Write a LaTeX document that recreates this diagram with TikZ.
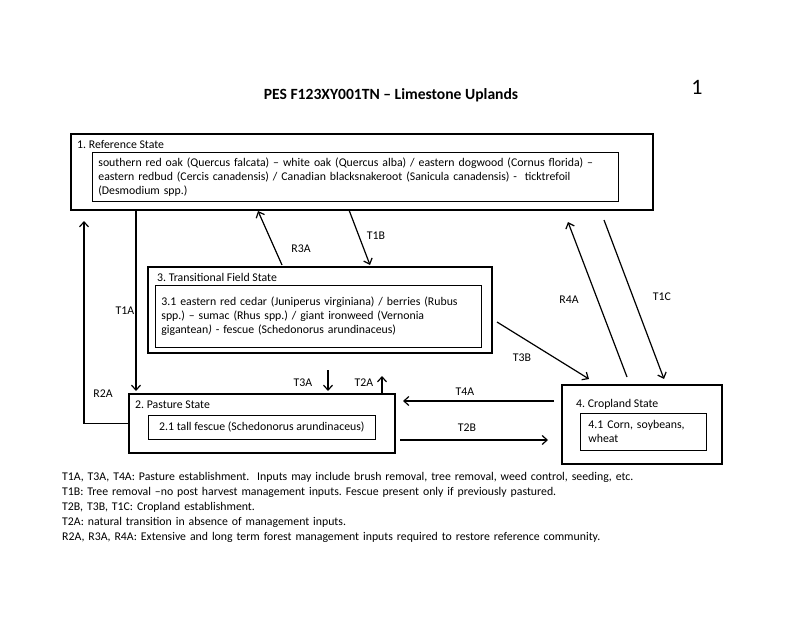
\documentclass[tikz,border=0pt]{standalone}
\usepackage{fontspec}
\setmainfont{Carlito}
\usetikzlibrary{positioning,arrows.meta}
\frenchspacing

\begin{document}
\begin{tikzpicture}[x=1pt,y=-1pt,
    outer/.style={draw, line width=1.6pt, anchor=north west, inner sep=0pt},
    inner/.style={draw, line width=0.8pt, anchor=north west, inner xsep=6pt, align=left},
    title/.style={anchor=base west, inner sep=0pt},
    lbl/.style={inner sep=1pt},
    arr/.style={line width=1.2pt, -{Straight Barb[length=5pt,width=9pt]}},
    every node/.style={font=\fontsize{11.8}{14}\selectfont}]
    \useasboundingbox (0,0) rectangle (800,618);
    % heading
    \node[font=\fontsize{15.6}{18}\selectfont\bfseries] (head) at (391,95) {PES F123XY001TN -- Limestone Uplands};
    \node[font=\fontsize{22}{26}\selectfont] (pageno) at (697,87) {1};
    % states
    \node[outer, minimum width=582pt, minimum height=76pt] (ref) at (70,133) {};
    \node[title] (reftitle) at (77,148) {1. Reference State};
    \node[inner, minimum width=526pt, minimum height=49pt, text width=514pt] (refcom) at (92,152)
        {southern red oak (Quercus falcata) -- white oak (Quercus alba) / eastern dogwood (Cornus florida) --\\
         eastern redbud (Cercis canadensis) / Canadian blacksnakeroot (Sanicula canadensis) -\ \ ticktrefoil\\
         (Desmodium spp.)};
    \node[outer, minimum width=344pt, minimum height=86pt] (trans) at (147,266) {};
    \node[title] (transtitle) at (157,281) {3. Transitional Field State};
    \node[inner, minimum width=326pt, minimum height=62pt, text width=314pt] (transcom) at (155,285)
        {3.1 eastern red cedar (Juniperus virginiana) / berries (Rubus\\
         spp.) -- sumac (Rhus spp.) / giant ironweed (Vernonia\\
         gigantean\textit{)} - fescue (Schedonorus arundinaceus)\\[-6pt]};
    \node[outer, minimum width=266pt, minimum height=59pt] (past) at (128,393) {};
    \node[title] (pasttitle) at (135,408) {2. Pasture State};
    \node[inner, minimum width=227pt, minimum height=24pt, align=center] (pastcom) at (148,415)
        {2.1 tall fescue (Schedonorus arundinaceus)};
    \node[outer, minimum width=160pt, minimum height=79pt] (crop) at (561,384) {};
    \node[title] (croptitle) at (576,407) {4. Cropland State};
    \node[inner, minimum width=122pt, minimum height=37pt, text width=110pt, inner xsep=8pt] (cropcom) at (580,413)
        {4.1 Corn, soybeans,\\ wheat};
    % arrow ends
    \coordinate (t1a) at (136,391);
    \coordinate (r2a) at (84,221);
    \coordinate (r3a-s) at (282,265);
    \coordinate (r3a-e) at (258,211);
    \coordinate (t1b-s) at (349,210);
    \coordinate (t1b-e) at (370,265);
    \coordinate (t3a-s) at (328,370);
    \coordinate (t3a-e) at (328,391);
    \coordinate (t2a) at (382,376);
    \coordinate (t3b-s) at (497,322);
    \coordinate (t3b-e) at (589,379);
    \coordinate (t4a-s) at (554,401);
    \coordinate (t4a-e) at (403,401);
    \coordinate (t2b-s) at (400,440);
    \coordinate (t2b-e) at (548,440);
    \coordinate (r4a-s) at (627,377);
    \coordinate (r4a-e) at (568,222);
    \coordinate (t1c-s) at (604,220);
    \coordinate (t1c-e) at (664,379);
    % transitions
    \draw[arr] (ref.south -| t1a) -- (t1a);
    \draw[arr] (past.west) -| (r2a);
    \draw[arr] (r3a-s) -- (r3a-e);
    \draw[arr] (t1b-s) -- (t1b-e);
    \draw[arr] (t3a-s) -- (t3a-e);
    \draw[arr] (past.north -| t2a) -- (t2a);
    \draw[arr] (t3b-s) -- (t3b-e);
    \draw[arr] (t4a-s) -- (t4a-e);
    \draw[arr] (t2b-s) -- (t2b-e);
    \draw[arr] (r4a-s) -- (r4a-e);
    \draw[arr] (t1c-s) -- (t1c-e);
    \node[lbl] (t1alab) at (125,311) {T1A};
    \node[lbl] (r2alab) at (103,394) {R2A};
    \node[lbl] (r3alab) at (301,249) {R3A};
    \node[lbl] (t1blab) at (376,236) {T1B};
    \node[lbl] (t3alab) at (303,383) {T3A};
    \node[lbl] (t2alab) at (364,383) {T2A};
    \node[lbl] (t3blab) at (522,358) {T3B};
    \node[lbl] (t4alab) at (465,392) {T4A};
    \node[lbl] (t2blab) at (467,428) {T2B};
    \node[lbl] (r4alab) at (569,300) {R4A};
    \node[lbl] (t1clab) at (662,297) {T1C};
    % notes
    \node[anchor=base west, inner sep=0pt, text width=700pt, align=left,
          font=\fontsize{11.8}{15}\selectfont] (notes) at (62,480)
        {T1A, T3A, T4A: Pasture establishment.\ \ Inputs may include brush removal, tree removal, weed control, seeding, etc.\\
         T1B: Tree removal --no post harvest management inputs. Fescue present only if previously pastured.\\
         T2B, T3B, T1C: Cropland establishment.\\
         T2A: natural transition in absence of management inputs.\\
         R2A, R3A, R4A: Extensive and long term forest management inputs required to restore reference community.};
\end{tikzpicture}
\end{document}
